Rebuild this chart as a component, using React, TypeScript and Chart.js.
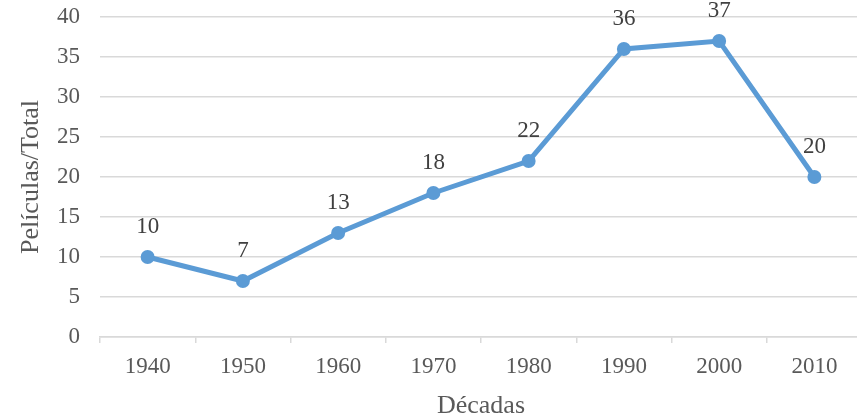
import React, { useEffect, useRef } from "react";
import { Chart, registerables } from "chart.js";

Chart.register(...registerables);

const categories = ["1940", "1950", "1960", "1970", "1980", "1990", "2000", "2010"];
const values = [10, 7, 13, 18, 22, 36, 37, 20];
const yTitle = "Películas/Total";
const xTitle = "Décadas";

const FONT = "'Liberation Serif', 'Times New Roman', serif";

const labelPlugin = {
  id: "pointLabels",
  afterDatasetsDraw(chart: any) {
    const ctx = chart.ctx;
    const meta = chart.getDatasetMeta(0);
    ctx.save();
    ctx.font = `23px ${FONT}`;
    ctx.fillStyle = "#404040";
    ctx.textAlign = "center";
    ctx.textBaseline = "alphabetic";
    meta.data.forEach((pt: any, i: number) => {
      ctx.fillText(String(values[i]), pt.x, pt.y - 24);
    });
    ctx.restore();
  },
};

export default function App() {
  const ref = useRef<HTMLCanvasElement>(null);
  useEffect(() => {
    document.body.style.margin = "0";
    const chart = new Chart(ref.current!, {
      type: "line",
      data: {
        labels: categories,
        datasets: [
          {
            data: values,
            borderColor: "#5B9BD5",
            backgroundColor: "#5B9BD5",
            borderWidth: 5,
            pointRadius: 7,
            pointHoverRadius: 7,
            pointBackgroundColor: "#5B9BD5",
            pointBorderWidth: 0,
            tension: 0,
            clip: false,
          },
        ],
      },
      options: {
        animation: false,
        responsive: false,
        maintainAspectRatio: false,
        layout: { padding: { top: 17, right: 0, left: 0, bottom: 0 } },
        plugins: { legend: { display: false }, tooltip: { enabled: false } },
        scales: {
          x: {
            offset: true,
            grid: {
              display: true,
              offset: true,
              drawOnChartArea: false,
              drawTicks: true,
              tickLength: 6,
              color: "#d9d9d9",
              lineWidth: 1.5,
            },
            border: { display: true, color: "#d9d9d9", width: 1.5 },
            ticks: { color: "#595959", font: { family: FONT, size: 23 }, padding: 10 },
            title: {
              display: true,
              text: xTitle,
              color: "#595959",
              font: { family: FONT, size: 26 },
              padding: { top: 0, bottom: -5 },
            },
            afterFit: (s: any) => {
              s.height = 80;
              s.paddingLeft = 0;
              s.paddingRight = 0;
            },
          },
          y: {
            min: 0,
            max: 40,
            ticks: { stepSize: 5, color: "#595959", font: { family: FONT, size: 23 }, padding: 20 },
            grid: { color: "#d9d9d9", lineWidth: 1.5, drawTicks: false },
            border: { display: false },
            title: {
              display: true,
              text: yTitle,
              color: "#595959",
              font: { family: FONT, size: 26 },
              padding: { top: 16, bottom: 0 },
            },
            afterFit: (s: any) => {
              s.width = 100;
              s.paddingTop = 0;
              s.paddingBottom = 0;
            },
          },
        },
      },
      plugins: [labelPlugin],
    });
    return () => chart.destroy();
  }, []);
  return (
    <div style={{ position: "absolute", left: 0, top: 0, width: 857, height: 417, overflow: "hidden" }}>
      <canvas ref={ref} width={869} height={417} style={{ width: 869, height: 417, display: "block" }} />
    </div>
  );
}
